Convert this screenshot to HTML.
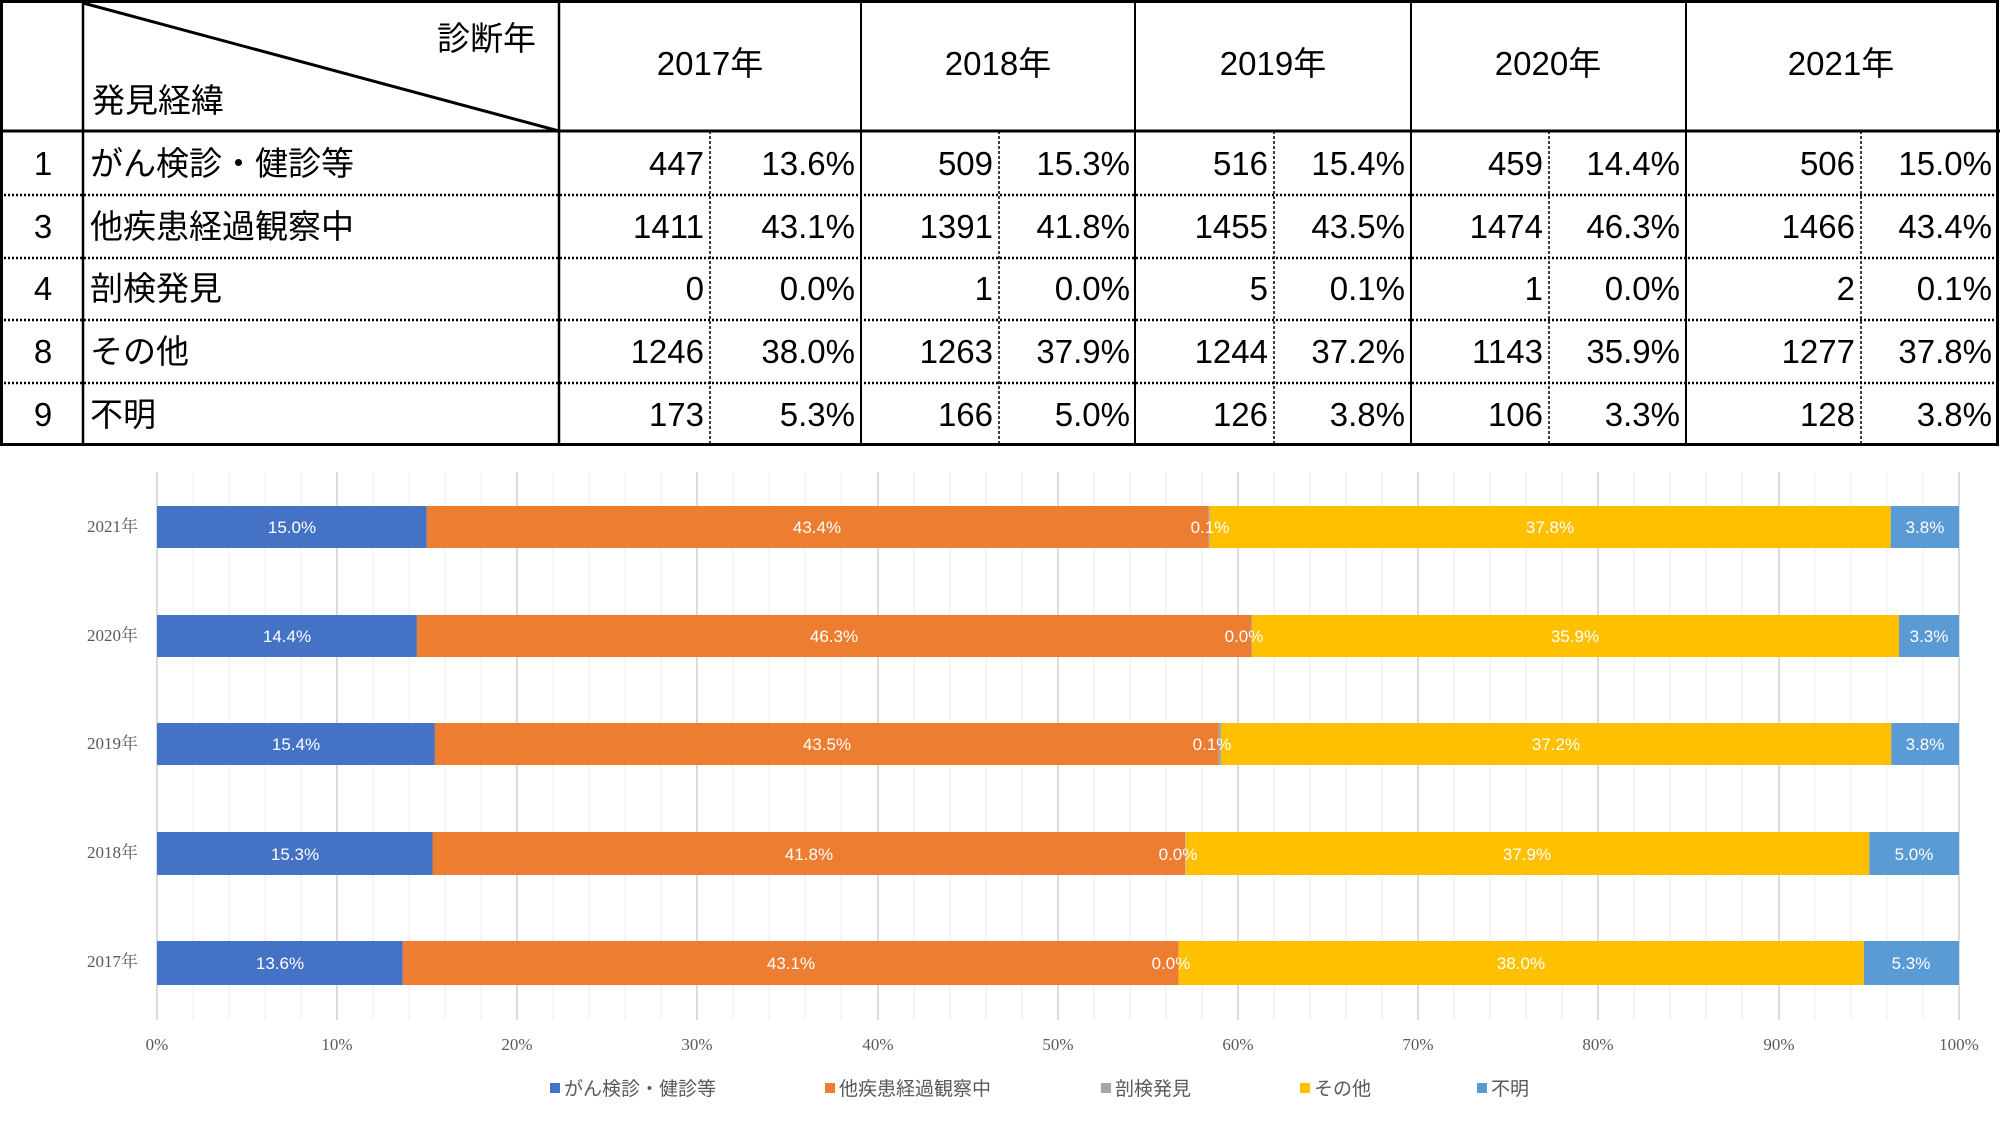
<!DOCTYPE html>
<html><head><meta charset="utf-8"><style>
html,body{margin:0;padding:0;background:#fff;}
svg{display:block}
.t{font-family:"Liberation Sans","Noto Sans CJK JP",sans-serif;font-size:33px;fill:#000}
.l{font-family:"Liberation Sans","Noto Sans CJK JP",sans-serif;font-size:17px;fill:#fff}
.a{font-family:"Liberation Serif","Noto Serif CJK SC",serif;font-size:17px;fill:#595959}
.g{font-family:"Liberation Sans","Noto Sans CJK JP",sans-serif;font-size:19px;fill:#595959}
</style></head><body>
<svg width="2000" height="1125" xmlns="http://www.w3.org/2000/svg">
<!-- TABLE -->
<g stroke="#000" fill="none">
<rect x="1.5" y="1.5" width="1996" height="443" stroke-width="3"/>
<line x1="0" y1="131" x2="2000" y2="131" stroke-width="3"/>
<line x1="83" y1="0" x2="83" y2="445" stroke-width="2.5"/>
<line x1="559" y1="0" x2="559" y2="445" stroke-width="2.5"/>
<line x1="861" y1="0" x2="861" y2="445" stroke-width="2"/>
<line x1="1135" y1="0" x2="1135" y2="445" stroke-width="2"/>
<line x1="1411" y1="0" x2="1411" y2="445" stroke-width="2"/>
<line x1="1686" y1="0" x2="1686" y2="445" stroke-width="2"/>
<line x1="83" y1="3" x2="559" y2="131" stroke-width="3"/>
<g stroke-width="2.5" stroke-dasharray="2,2">
<line x1="0" y1="195" x2="2000" y2="195"/><line x1="0" y1="258" x2="2000" y2="258"/>
<line x1="0" y1="320" x2="2000" y2="320"/><line x1="0" y1="383" x2="2000" y2="383"/>
</g>
<g stroke-width="1.5" stroke-dasharray="3,2">
<line x1="710" y1="131" x2="710" y2="445"/><line x1="999" y1="131" x2="999" y2="445"/>
<line x1="1274" y1="131" x2="1274" y2="445"/><line x1="1549" y1="131" x2="1549" y2="445"/>
<line x1="1861" y1="131" x2="1861" y2="445"/>
</g>
</g>
<g class="t">
<text x="536" y="50" text-anchor="end">診断年</text>
<text x="92" y="112">発見経緯</text>
<text x="710" y="75" text-anchor="middle">2017年</text>
<text x="998" y="75" text-anchor="middle">2018年</text>
<text x="1273" y="75" text-anchor="middle">2019年</text>
<text x="1548" y="75" text-anchor="middle">2020年</text>
<text x="1841" y="75" text-anchor="middle">2021年</text>
<g text-anchor="middle"><text x="43" y="175">1</text><text x="43" y="238">3</text><text x="43" y="300">4</text><text x="43" y="363">8</text><text x="43" y="426">9</text></g>
<text x="90" y="175">がん検診・健診等</text><text x="90" y="238">他疾患経過観察中</text><text x="90" y="300">剖検発見</text><text x="90" y="363">その他</text><text x="90" y="426">不明</text>
<g text-anchor="end">
<text x="704" y="175">447</text><text x="855" y="175">13.6%</text><text x="993" y="175">509</text><text x="1130" y="175">15.3%</text><text x="1268" y="175">516</text><text x="1405" y="175">15.4%</text><text x="1543" y="175">459</text><text x="1680" y="175">14.4%</text><text x="1855" y="175">506</text><text x="1992" y="175">15.0%</text>
<text x="704" y="238">1411</text><text x="855" y="238">43.1%</text><text x="993" y="238">1391</text><text x="1130" y="238">41.8%</text><text x="1268" y="238">1455</text><text x="1405" y="238">43.5%</text><text x="1543" y="238">1474</text><text x="1680" y="238">46.3%</text><text x="1855" y="238">1466</text><text x="1992" y="238">43.4%</text>
<text x="704" y="300">0</text><text x="855" y="300">0.0%</text><text x="993" y="300">1</text><text x="1130" y="300">0.0%</text><text x="1268" y="300">5</text><text x="1405" y="300">0.1%</text><text x="1543" y="300">1</text><text x="1680" y="300">0.0%</text><text x="1855" y="300">2</text><text x="1992" y="300">0.1%</text>
<text x="704" y="363">1246</text><text x="855" y="363">38.0%</text><text x="993" y="363">1263</text><text x="1130" y="363">37.9%</text><text x="1268" y="363">1244</text><text x="1405" y="363">37.2%</text><text x="1543" y="363">1143</text><text x="1680" y="363">35.9%</text><text x="1855" y="363">1277</text><text x="1992" y="363">37.8%</text>
<text x="704" y="426">173</text><text x="855" y="426">5.3%</text><text x="993" y="426">166</text><text x="1130" y="426">5.0%</text><text x="1268" y="426">126</text><text x="1405" y="426">3.8%</text><text x="1543" y="426">106</text><text x="1680" y="426">3.3%</text><text x="1855" y="426">128</text><text x="1992" y="426">3.8%</text>
</g>
</g>
<!-- CHART gridlines -->
<g stroke="#ececec" stroke-width="1">
<line x1="193" y1="472" x2="193" y2="1020"/><line x1="229" y1="472" x2="229" y2="1020"/><line x1="265" y1="472" x2="265" y2="1020"/><line x1="301" y1="472" x2="301" y2="1020"/>
<line x1="373" y1="472" x2="373" y2="1020"/><line x1="409" y1="472" x2="409" y2="1020"/><line x1="445" y1="472" x2="445" y2="1020"/><line x1="481" y1="472" x2="481" y2="1020"/>
<line x1="553" y1="472" x2="553" y2="1020"/><line x1="589" y1="472" x2="589" y2="1020"/><line x1="625" y1="472" x2="625" y2="1020"/><line x1="661" y1="472" x2="661" y2="1020"/>
<line x1="733" y1="472" x2="733" y2="1020"/><line x1="769" y1="472" x2="769" y2="1020"/><line x1="805" y1="472" x2="805" y2="1020"/><line x1="841" y1="472" x2="841" y2="1020"/>
<line x1="914" y1="472" x2="914" y2="1020"/><line x1="950" y1="472" x2="950" y2="1020"/><line x1="986" y1="472" x2="986" y2="1020"/><line x1="1022" y1="472" x2="1022" y2="1020"/>
<line x1="1094" y1="472" x2="1094" y2="1020"/><line x1="1130" y1="472" x2="1130" y2="1020"/><line x1="1166" y1="472" x2="1166" y2="1020"/><line x1="1202" y1="472" x2="1202" y2="1020"/>
<line x1="1274" y1="472" x2="1274" y2="1020"/><line x1="1310" y1="472" x2="1310" y2="1020"/><line x1="1346" y1="472" x2="1346" y2="1020"/><line x1="1382" y1="472" x2="1382" y2="1020"/>
<line x1="1454" y1="472" x2="1454" y2="1020"/><line x1="1490" y1="472" x2="1490" y2="1020"/><line x1="1526" y1="472" x2="1526" y2="1020"/><line x1="1562" y1="472" x2="1562" y2="1020"/>
<line x1="1634" y1="472" x2="1634" y2="1020"/><line x1="1670" y1="472" x2="1670" y2="1020"/><line x1="1706" y1="472" x2="1706" y2="1020"/><line x1="1742" y1="472" x2="1742" y2="1020"/>
<line x1="1815" y1="472" x2="1815" y2="1020"/><line x1="1851" y1="472" x2="1851" y2="1020"/><line x1="1887" y1="472" x2="1887" y2="1020"/><line x1="1923" y1="472" x2="1923" y2="1020"/>
</g>
<g stroke="#d0d0d0" stroke-width="1.5">
<line x1="157" y1="472" x2="157" y2="1020"/><line x1="337" y1="472" x2="337" y2="1020"/><line x1="517" y1="472" x2="517" y2="1020"/><line x1="697" y1="472" x2="697" y2="1020"/><line x1="878" y1="472" x2="878" y2="1020"/><line x1="1058" y1="472" x2="1058" y2="1020"/><line x1="1238" y1="472" x2="1238" y2="1020"/><line x1="1418" y1="472" x2="1418" y2="1020"/><line x1="1598" y1="472" x2="1598" y2="1020"/><line x1="1779" y1="472" x2="1779" y2="1020"/><line x1="1959" y1="472" x2="1959" y2="1020"/>
</g>
<!-- bars -->
<g>
<rect x="157" y="506" width="269.8" height="42" fill="#4472C4"/><rect x="426.8" y="506" width="781.8" height="42" fill="#ED7D31"/><rect x="1208.6" y="506" width="1.1" height="42" fill="#A5A5A5"/><rect x="1209.7" y="506" width="681" height="42" fill="#FFC000"/><rect x="1890.7" y="506" width="68.3" height="42" fill="#5B9BD5"/>
<rect x="157" y="615" width="259.9" height="42" fill="#4472C4"/><rect x="416.9" y="615" width="834.5" height="42" fill="#ED7D31"/><rect x="1251.4" y="615" width="0.6" height="42" fill="#A5A5A5"/><rect x="1252" y="615" width="647" height="42" fill="#FFC000"/><rect x="1899" y="615" width="60" height="42" fill="#5B9BD5"/>
<rect x="157" y="723" width="277.9" height="42" fill="#4472C4"/><rect x="434.9" y="723" width="783.7" height="42" fill="#ED7D31"/><rect x="1218.6" y="723" width="2.7" height="42" fill="#A5A5A5"/><rect x="1221.3" y="723" width="669.9" height="42" fill="#FFC000"/><rect x="1891.2" y="723" width="67.8" height="42" fill="#5B9BD5"/>
<rect x="157" y="832" width="275.5" height="43" fill="#4472C4"/><rect x="432.5" y="832" width="752.7" height="43" fill="#ED7D31"/><rect x="1185.2" y="832" width="0.6" height="43" fill="#A5A5A5"/><rect x="1185.8" y="832" width="683.5" height="43" fill="#FFC000"/><rect x="1869.3" y="832" width="89.7" height="43" fill="#5B9BD5"/>
<rect x="157" y="941" width="245.8" height="44" fill="#4472C4"/><rect x="402.8" y="941" width="775.9" height="44" fill="#ED7D31"/><rect x="1178.7" y="941" width="685.2" height="44" fill="#FFC000"/><rect x="1863.9" y="941" width="95.1" height="44" fill="#5B9BD5"/>
</g>
<g class="l" text-anchor="middle">
<text x="292" y="533">15.0%</text><text x="817" y="533">43.4%</text><text x="1210" y="533">0.1%</text><text x="1550" y="533">37.8%</text><text x="1925" y="533">3.8%</text>
<text x="287" y="642">14.4%</text><text x="834" y="642">46.3%</text><text x="1244" y="642">0.0%</text><text x="1575" y="642">35.9%</text><text x="1929" y="642">3.3%</text>
<text x="296" y="750">15.4%</text><text x="827" y="750">43.5%</text><text x="1212" y="750">0.1%</text><text x="1556" y="750">37.2%</text><text x="1925" y="750">3.8%</text>
<text x="295" y="860">15.3%</text><text x="809" y="860">41.8%</text><text x="1178" y="860">0.0%</text><text x="1527" y="860">37.9%</text><text x="1914" y="860">5.0%</text>
<text x="280" y="969">13.6%</text><text x="791" y="969">43.1%</text><text x="1171" y="969">0.0%</text><text x="1521" y="969">38.0%</text><text x="1911" y="969">5.3%</text>
</g>
<g class="a" text-anchor="end">
<text x="138" y="532">2021年</text><text x="138" y="641">2020年</text><text x="138" y="749">2019年</text><text x="138" y="858">2018年</text><text x="138" y="967">2017年</text>
</g>
<g class="a" text-anchor="middle">
<text x="157" y="1050">0%</text><text x="337" y="1050">10%</text><text x="517" y="1050">20%</text><text x="697" y="1050">30%</text><text x="878" y="1050">40%</text><text x="1058" y="1050">50%</text><text x="1238" y="1050">60%</text><text x="1418" y="1050">70%</text><text x="1598" y="1050">80%</text><text x="1779" y="1050">90%</text><text x="1959" y="1050">100%</text>
</g>
<g>
<rect x="550" y="1083" width="10" height="10" fill="#4472C4"/><rect x="825" y="1083" width="10" height="10" fill="#ED7D31"/><rect x="1101" y="1083" width="10" height="10" fill="#A5A5A5"/><rect x="1300" y="1083" width="10" height="10" fill="#FFC000"/><rect x="1477" y="1083" width="10" height="10" fill="#5B9BD5"/>
</g>
<g class="g">
<text x="564" y="1095">がん検診・健診等</text><text x="839" y="1095">他疾患経過観察中</text><text x="1115" y="1095">剖検発見</text><text x="1314" y="1095">その他</text><text x="1491" y="1095">不明</text>
</g>
</svg>
</body></html>
